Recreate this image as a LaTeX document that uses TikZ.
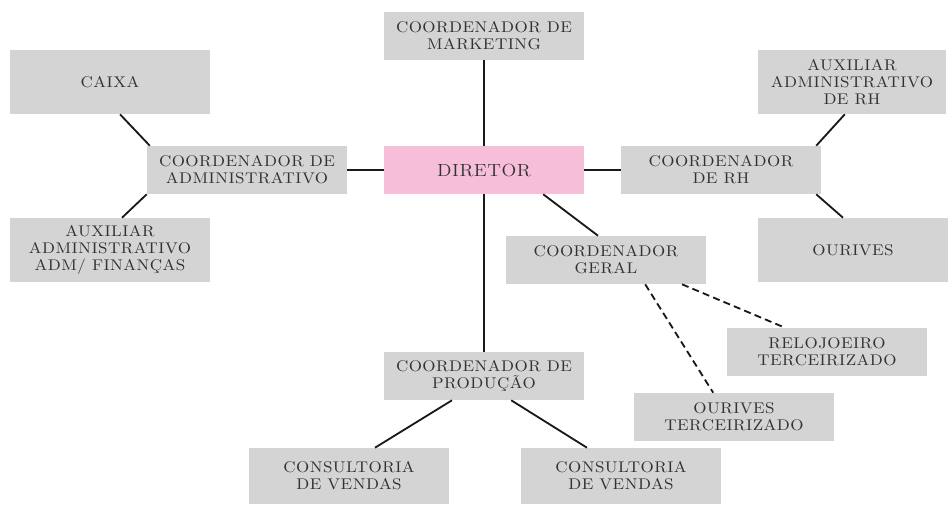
\documentclass[tikz,border=0pt]{standalone}
\usepackage{fontspec}
\setmainfont{Latin Modern Roman}[LetterSpace=3, FakeStretch=1.1]
\usetikzlibrary{positioning}
\definecolor{boxgray}{RGB}{212,212,212}
\definecolor{boxpink}{RGB}{246,190,216}
\definecolor{txtgray}{RGB}{50,50,50}

\begin{document}
\begin{tikzpicture}[
    x=0.025cm, y=-0.025cm,
    cargo/.style={rectangle, fill=boxgray, text=txtgray, align=center, font=\fontsize{11}{12.2}\selectfont, minimum width=5cm, minimum height=1.2cm, inner sep=2pt},
    alto/.style={cargo, minimum height=1.6cm},
    link/.style={line width=1.3pt, black!90},
    terc/.style={link, dashed, dash pattern=on 5pt off 3pt}
]
\useasboundingbox (0,0) rectangle (950,506);

% Diretor e coordenadores
\node[cargo, fill=boxpink, font=\fontsize{12.5}{14}\selectfont] (dir) at (484,170) {DIRETOR};
\node[cargo] (mkt) at (484,36) {COORDENADOR DE\\MARKETING};
\node[cargo] (adm) at (247,170) {COORDENADOR DE\\ADMINISTRATIVO};
\node[cargo] (rh) at (721,170) {COORDENADOR\\DE RH};
\node[cargo] (geral) at (606,260) {COORDENADOR\\GERAL};
\node[cargo] (prod) at (484,376) {COORDENADOR DE\\PRODUÇÃO};

% Administrativo
\node[alto] (caixa) at (110,82) {CAIXA};
\node[alto] (auxadm) at (110,250) {AUXILIAR\\ADMINISTRATIVO\\ADM/ FINANÇAS};

% RH
\node[alto, minimum width=4.7cm] (auxrh) at (852,82) {AUXILIAR\\ADMINISTRATIVO\\DE RH};
\node[alto, minimum width=4.75cm] (ourives) at (853,250) {OURIVES};

% Terceirizados
\node[cargo] (relo) at (827,352) {RELOJOEIRO\\TERCEIRIZADO};
\node[cargo] (ourterc) at (734,417) {OURIVES\\TERCEIRIZADO};

% Producao
\node[cargo, minimum height=1.4cm] (cons1) at (349,476) {CONSULTORIA\\DE VENDAS};
\node[cargo, minimum height=1.4cm] (cons2) at (621,476) {CONSULTORIA\\DE VENDAS};

% Ligacoes
\draw[link] (mkt) -- (dir);
\draw[link] (dir) -- (adm);
\draw[link] (dir) -- (rh);
\draw[link] (dir) -- (prod);
\draw[link] ([xshift=1.48cm]dir.south) -- ([xshift=-0.2cm]geral.north);
\draw[link] ([xshift=0.25cm]caixa.south) -- ([xshift=-2.43cm]adm.north);
\draw[link] ([xshift=0.3cm]auxadm.north) -- (adm.south west);
\draw[link] ([xshift=2.38cm]rh.north) -- ([xshift=-0.18cm]auxrh.south);
\draw[link] ([xshift=2.38cm]rh.south) -- ([xshift=-0.25cm]ourives.north);
\draw[link] ([xshift=-0.8cm]prod.south) -- ([xshift=0.65cm]cons1.north);
\draw[link] ([xshift=0.68cm]prod.south) -- ([xshift=-0.85cm]cons2.north);
\draw[terc] ([xshift=1.9cm]geral.south) -- ([xshift=-1.05cm]relo.north);
\draw[terc] ([xshift=0.98cm]geral.south) -- ([xshift=-0.52cm]ourterc.north);

\end{tikzpicture}
\end{document}
